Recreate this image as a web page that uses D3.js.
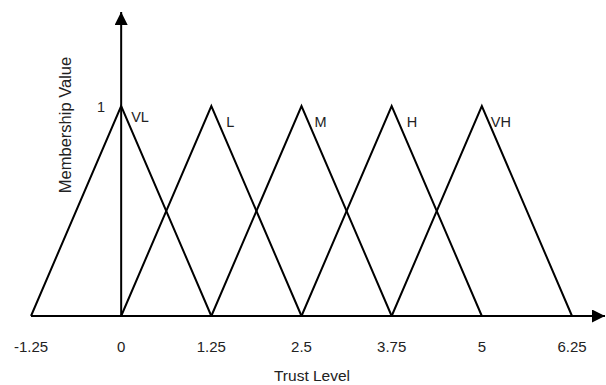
<!DOCTYPE html>
<html>
<head>
<meta charset="utf-8">
<script src="https://cdn.jsdelivr.net/npm/d3@7"></script>
<style>
  body { margin: 0; background: #fff; }
  text { font-family: "Liberation Sans", Arial, sans-serif; fill: #222; }
</style>
</head>
<body>
<svg id="chart" width="606" height="385"></svg>
<script>
// fuzzy sets: name and peak, each triangle spreads one step each side
const setNames = ['VL', 'L', 'M', 'H', 'VH'];
const setPeaks = [0, 1.25, 2.5, 3.75, 5];
const setSpread = 1.25;
const tickValues = [-1.25, 0, 1.25, 2.5, 3.75, 5, 6.25];
const tickLabels = ['-1.25', '0', '1.25', '2.5', '3.75', '5', '6.25'];

const svg = d3.select('#chart');
const x = d3.scaleLinear().domain([-1.25, 6.25]).range([31, 572]);
const y = d3.scaleLinear().domain([0, 1]).range([316, 106]);

// arrow marker
svg.append('defs').append('marker')
  .attr('id', 'arrow')
  .attr('viewBox', '0 0 10 10')
  .attr('refX', 10).attr('refY', 5)
  .attr('markerWidth', 13).attr('markerHeight', 13)
  .attr('markerUnits', 'userSpaceOnUse')
  .attr('orient', 'auto')
  .append('path').attr('d', 'M0,0 L10,5 L0,10 Z').attr('fill', '#000');

// axes
svg.append('line')
  .attr('x1', x(-1.25)).attr('y1', y(0))
  .attr('x2', 605).attr('y2', y(0))
  .attr('stroke', '#000').attr('stroke-width', 2)
  .attr('marker-end', 'url(#arrow)');

svg.append('line')
  .attr('x1', x(0)).attr('y1', y(0))
  .attr('x2', x(0)).attr('y2', 12)
  .attr('stroke', '#000').attr('stroke-width', 2)
  .attr('marker-end', 'url(#arrow)');

// triangles + set labels
const labelDx = [10, 15, 13, 15, 9];
const labelDy = [16, 21, 21, 21, 21];
const line = d3.line().x(d => x(d[0])).y(d => y(d[1]));
setPeaks.forEach((p, i) => {
  svg.append('path')
    .attr('d', line([[p - setSpread, 0], [p, 1], [p + setSpread, 0]]))
    .attr('fill', 'none')
    .attr('stroke', '#000')
    .attr('stroke-width', 2)
    .attr('stroke-linejoin', 'miter');

  svg.append('text')
    .attr('x', x(p) + labelDx[i])
    .attr('y', y(1) + labelDy[i])
    .attr('font-size', 14.5)
    .text(setNames[i]);
});

// tick labels
svg.selectAll('.tick-label')
  .data(tickValues)
  .enter().append('text')
  .attr('class', 'tick-label')
  .attr('x', d => x(d))
  .attr('y', 352)
  .attr('text-anchor', 'middle')
  .attr('font-size', 15)
  .text((d, i) => tickLabels[i]);

// "1" label
svg.append('text')
  .attr('x', 101).attr('y', y(1) + 6)
  .attr('text-anchor', 'middle')
  .attr('font-size', 14.5)
  .text('1');

// axis titles
svg.append('text')
  .attr('x', 312).attr('y', 381)
  .attr('text-anchor', 'middle')
  .attr('font-size', 15.5)
  .text('Trust Level');

svg.append('text')
  .attr('transform', 'translate(71,125) rotate(-90)')
  .attr('text-anchor', 'middle')
  .attr('font-size', 16.5)
  .text('Membership Value');
</script>
</body>
</html>
